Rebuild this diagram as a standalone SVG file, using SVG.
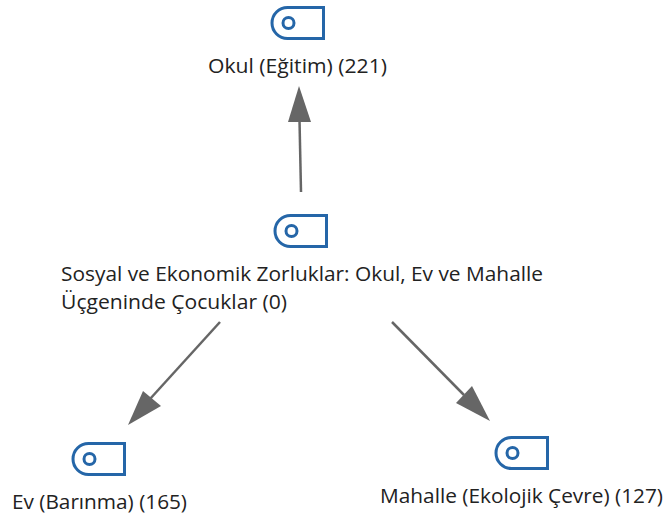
<svg xmlns="http://www.w3.org/2000/svg" width="664" height="517" viewBox="0 0 664 517">
<style>
.t{font-family:"Open Sans","Noto Sans","Liberation Sans",sans-serif;font-size:20px;fill:#222}
.i{fill:none;stroke:#2566a8;stroke-width:3}
.l{stroke:#666;stroke-width:2.500;fill:none}
.h{fill:#666}
</style>
<defs>
<g id="tag"><path class="i" d="M52.500 1.500H16.500A15.500 15.500 0 0 0 16.500 32.500H52.500Z"/><circle class="i" cx="17.500" cy="17" r="5.500"/></g>
</defs>
<rect width="664" height="517" fill="#fff"/>
<g id="connectors">
<path class="l" d="M301 192L299.500 120"/><path class="h" d="M299 86L311 122H288Z"/>
<path class="l" d="M220 322L150 399"/><path class="h" d="M128 425L143 391L161 406Z"/>
<path class="l" d="M392 322L464 395"/><path class="h" d="M490 421L456 403L472 386Z"/>
</g>
<g id="node-okul"><use href="#tag" x="271" y="6"/><text class="t" x="208" y="73" textLength="179" lengthAdjust="spacingAndGlyphs">Okul (Eğitim) (221)</text></g>
<g id="node-root"><use href="#tag" x="274" y="214"/><text class="t" x="61" y="281" textLength="482" lengthAdjust="spacingAndGlyphs">Sosyal ve Ekonomik Zorluklar: Okul, Ev ve Mahalle</text><text class="t" x="61" y="309" textLength="226" lengthAdjust="spacingAndGlyphs">Üçgeninde Çocuklar (0)</text></g>
<g id="node-ev"><use href="#tag" x="72" y="442"/><text class="t" x="12" y="509" textLength="175" lengthAdjust="spacingAndGlyphs">Ev (Barınma) (165)</text></g>
<g id="node-mahalle"><use href="#tag" x="495" y="436"/><text class="t" x="380" y="503" textLength="283" lengthAdjust="spacingAndGlyphs">Mahalle (Ekolojik Çevre) (127)</text></g>
</svg>
